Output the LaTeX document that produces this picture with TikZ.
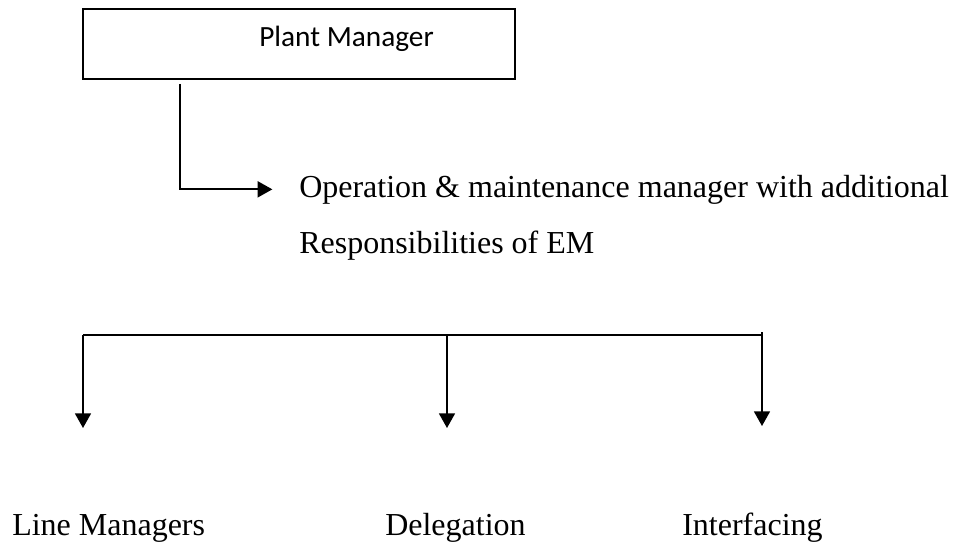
\documentclass[tikz,border=0pt]{standalone}
\usepackage{fontspec}
\setmainfont{Liberation Serif}
\newfontfamily\calibri{Carlito}
\usetikzlibrary{arrows.meta}
\begin{document}
\begin{tikzpicture}[x=0.75pt,y=-0.75pt,
  box/.style={draw, line width=1.3pt, minimum width=324pt, minimum height=52.5pt, inner sep=0pt},
  lbl/.style={anchor=base west, inner sep=0pt, font=\fontsize{24}{28}\selectfont},
  boxlbl/.style={anchor=base west, inner sep=0pt, font=\calibri\fontsize{22}{26}\selectfont},
  conn/.style={line width=1.3pt, -{Triangle[length=11pt,width=12pt]}},
  bus/.style={line width=1.1pt}]
\useasboundingbox (0,0) rectangle (958,542);
% box
\node[box] (pm) at (299,44) {};
\node[boxlbl] (pmtext) at (259,47) {Plant Manager};
% operation text
\node[lbl] (om1) at (299,197) {Operation \& maintenance manager with additional};
\node[lbl] (om2) at (299,253) {Responsibilities of EM};
% connector box -> operation
\coordinate (pmout) at ([yshift=-3pt]pm.south -| 180,0);
\draw[conn, shorten >=20pt] (pmout) |- (om1.west);
% bottom bus
\coordinate (bl) at (83,335);
\coordinate (bm) at (447,335);
\coordinate (br) at (762,335);
\coordinate (brtop) at (762,332);
\coordinate (tl) at (83,428);
\coordinate (tm) at (447,428);
\coordinate (tr) at (762,426);
\draw[bus] (bl) -- (br);
\draw[conn] (bl) -- (tl);
\draw[conn] (bm) -- (tm);
\draw[conn] (brtop) -- (tr);
% bottom labels
\node[lbl] (lm) at (12,535) {Line Managers};
\node[lbl] (del) at (385,535) {Delegation};
\node[lbl] (int) at (682,535) {Interfacing};
\end{tikzpicture}
\end{document}
